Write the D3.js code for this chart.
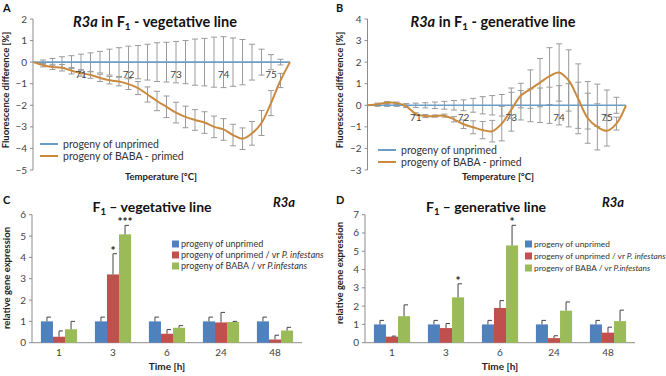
<!DOCTYPE html>
<html>
<head>
<meta charset="utf-8">
<script src="https://cdn.jsdelivr.net/npm/d3@7"></script>
<style>
  html, body { margin: 0; padding: 0; background: #fff; overflow: hidden; }
  svg { display: block; font-family: Lato, "Open Sans", sans-serif; }
</style>
</head>
<body>
<svg id="chart" width="666" height="376"></svg>
<script>
// ---- melt curve data (panels A, B) ----
var temps = [70.0, 70.2, 70.4, 70.6, 70.8, 71.0, 71.2, 71.4, 71.6, 71.8, 72.0, 72.2, 72.4, 72.6,
             72.8, 73.0, 73.2, 73.4, 73.6, 73.8, 74.0, 74.2, 74.4, 74.6, 74.8, 75.0, 75.2, 75.4];
var tempTicks = [71, 72, 73, 74, 75];
var unprimedDiff = [0, 0, 0, 0, 0, 0, 0, 0, 0, 0, 0, 0, 0, 0, 0, 0, 0, 0, 0, 0, 0, 0, 0, 0, 0, 0, 0, 0];

// vegetative line
var vegPrimed = [0, -0.14, -0.22, -0.26, -0.40, -0.50, -0.60, -0.73, -0.84, -0.90, -1.02, -1.20, -1.50, -1.80,
                 -2.07, -2.34, -2.54, -2.68, -2.80, -3.00, -3.12, -3.38, -3.55, -3.30, -2.82, -1.90, -0.85, 0];
var vegUnprimedErr = [0, 0.10, 0.17, 0.25, 0.30, 0.37, 0.43, 0.50, 0.60, 0.67, 0.74, 0.77, 0.83, 0.90,
                      0.92, 0.96, 1.00, 1.07, 1.10, 1.16, 1.18, 1.12, 1.05, 0.83, 0.60, 0.35, 0.13, 0];
var vegPrimedErr = [0, 0.08, 0.12, 0.15, 0.15, 0.15, 0.15, 0.17, 0.17, 0.20, 0.25, 0.30, 0.35, 0.45,
                    0.50, 0.48, 0.50, 0.48, 0.50, 0.50, 0.50, 0.50, 0.50, 0.55, 0.58, 0.58, 0.33, 0];

// generative line
var genPrimed = [0, 0.05, 0.12, 0.10, -0.05, -0.40, -0.50, -0.50, -0.48, -0.65, -0.88, -1.02, -1.15, -1.20,
                 -0.85, -0.20, 0.45, 0.75, 1.05, 1.35, 1.52, 1.15, 0.30, -0.60, -1.00, -1.18, -0.85, 0];
var genUnprimedErr = [0, 0.05, 0.05, 0.05, 0.08, 0.10, 0.12, 0.15, 0.18, 0.22, 0.25, 0.32, 0.40, 0.45,
                      0.50, 0.60, 0.68, 0.76, 0.80, 0.84, 0.91, 1.00, 1.07, 1.10, 0.98, 0.71, 0.37, 0];
var genPrimedErr = [0, 0.05, 0.05, 0.05, 0.05, 0.05, 0.07, 0.05, 0.07, 0.12, 0.20, 0.30, 0.40, 0.50,
                    0.80, 1.00, 0.57, 0.89, 1.12, 1.32, 1.33, 1.42, 1.62, 1.16, 1.07, 0.71, 0.30, 0];

// ---- relative expression data (panels C, D) ----
var times = ["1", "3", "6", "24", "48"];
var seriesKeys = ["unprimed", "unprimedInf", "babaInf"];

var vegUnprimed = [1, 1, 1, 1, 1];
var vegUnprimedE = [0.2, 0.2, 0.2, 0.2, 0.2];
var vegUnprimedInf = [0.28, 3.2, 0.42, 0.95, 0.15];
var vegUnprimedInfE = [0.27, 0.97, 0.2, 0.47, 0.2];
var vegBabaInf = [0.63, 5.08, 0.7, 0.97, 0.57];
var vegBabaInfE = [0.37, 0.42, 0.1, 0.03, 0.15];
var vegStars = [["3", 1, "*"], ["3", 2, "***"]];

var genUnprimed = [1, 1, 1, 1, 1];
var genUnprimedE = [0.22, 0.22, 0.22, 0.22, 0.22];
var genUnprimedInf = [0.33, 0.8, 1.9, 0.25, 0.55];
var genUnprimedInfE = [0.03, 0.25, 0.4, 0.13, 0.3];
var genBabaInf = [1.45, 2.48, 5.32, 1.75, 1.18];
var genBabaInfE = [0.62, 0.74, 1.1, 0.48, 0.6];
var genStars = [["3", 2, "*"], ["6", 2, "*"]];

var barColors = ["#4f81bd", "#c0504d", "#9bbb59"];
var lineBlue = "#6b9cc4", lineOrange = "#c98a3e", errGray = "#9a9a9a";

var svg = d3.select("#chart");

// text with mixed bold / italic / subscript pieces
function richText(g, x, y, parts, size, anchor) {
    var t = g.append("text").attr("x", x).attr("y", y)
        .attr("text-anchor", anchor || "start")
        .attr("font-size", size);
    parts.forEach(function(p) {
        var s = t.append("tspan").text(p.t);
        if (p.i) s.attr("font-style", "italic");
        if (p.b) s.attr("font-weight", "bold");
        if (p.sub) s.attr("font-size", size * 0.68).attr("dy", size * 0.22);
        if (p.up) s.attr("dy", -size * 0.22);
    });
    return t;
}

function panelLabel(x, y, txt) {
    svg.append("text").attr("x", x).attr("y", y).attr("font-size", 11)
        .attr("font-weight", "bold").attr("fill", "#111").text(txt);
}

function drawYAxis(g, y, x0, ticks, fmt) {
    g.append("line").attr("x1", x0).attr("x2", x0)
        .attr("y1", y.range()[0]).attr("y2", y.range()[1])
        .attr("stroke", "#8c8c8c");
    ticks.forEach(function(v) {
        g.append("line").attr("x1", x0 - 3).attr("x2", x0)
            .attr("y1", y(v)).attr("y2", y(v)).attr("stroke", "#8c8c8c");
        g.append("text").attr("x", x0 - 6).attr("y", y(v) + 3.5)
            .attr("text-anchor", "end").attr("font-size", 10).attr("fill", "#444")
            .text(fmt ? fmt(v) : v);
    });
}

// ---- melt curve panel ----
function meltPanel(cfg) {
    var g = svg.append("g");
    var x = d3.scaleLinear().domain([70.0, 75.4]).range(cfg.xr);
    var y = d3.scaleLinear().domain(cfg.yd).range([170, 19]);

    drawYAxis(g, y, cfg.xr[0] - 0.5, d3.range(cfg.yd[0], cfg.yd[1] + 1), d3.format("d"));

    // error bars (inner points only)
    function errBars(vals, errs) {
        for (var i = 1; i < temps.length - 1; i++) {
            var cx = x(temps[i]), lo = y(vals[i] - errs[i]), hi = y(vals[i] + errs[i]);
            g.append("line").attr("x1", cx).attr("x2", cx).attr("y1", lo).attr("y2", hi)
                .attr("stroke", errGray).attr("stroke-width", 1);
            [lo, hi].forEach(function(yy) {
                g.append("line").attr("x1", cx - 3).attr("x2", cx + 3).attr("y1", yy).attr("y2", yy)
                    .attr("stroke", errGray).attr("stroke-width", 1);
            });
        }
    }
    errBars(unprimedDiff, cfg.unErr);
    errBars(cfg.primed, cfg.prErr);

    var line = d3.line().x(function(d, i) { return x(temps[i]); })
        .y(function(d) { return y(d); })
        .curve(d3.curveCatmullRom.alpha(0.5));
    g.append("path").attr("d", line(unprimedDiff)).attr("fill", "none")
        .attr("stroke", lineBlue).attr("stroke-width", 1.6);
    g.append("path").attr("d", line(cfg.primed)).attr("fill", "none")
        .attr("stroke", lineOrange).attr("stroke-width", 2);

    // temperature labels sit just under the zero line
    tempTicks.forEach(function(t) {
        g.append("text").attr("x", x(t)).attr("y", y(0) + 16)
            .attr("text-anchor", "middle").attr("font-size", 10).attr("fill", "#444").text(t);
    });

    richText(g, cfg.titleX, 27, cfg.title, 14.5, "middle").attr("fill", "#111");

    g.append("text").attr("x", cfg.axisX).attr("y", 180).attr("text-anchor", "middle")
        .attr("font-size", 9.5).attr("font-weight", "bold").attr("fill", "#222")
        .text("Temperature [°C]");
    g.append("text").attr("transform", "translate(" + (cfg.xr[0] - 25) + ",90) rotate(-90)")
        .attr("text-anchor", "middle").attr("font-size", 9.5).attr("font-weight", "bold")
        .attr("fill", "#222").text("Fluorescence difference [%]");

    // legend
    var names = ["progeny of unprimed", "progeny of BABA - primed"];
    [lineBlue, lineOrange].forEach(function(c, i) {
        var ly = cfg.legY + i * 12;
        g.append("line").attr("x1", cfg.legX).attr("x2", cfg.legX + 18)
            .attr("y1", ly).attr("y2", ly).attr("stroke", c).attr("stroke-width", 2);
        g.append("text").attr("x", cfg.legX + 23).attr("y", ly + 3.5)
            .attr("font-size", 10.5).attr("fill", "#333").text(names[i]);
    });
}

meltPanel({
    xr: [33.5, 290], yd: [-5, 2], primed: vegPrimed, unErr: vegUnprimedErr, prErr: vegPrimedErr,
    titleX: 155, axisX: 161, legX: 40, legY: 144,
    title: [{t: "R3a", i: 1, b: 1}, {t: " in F", b: 1}, {t: "1", b: 1, sub: 1}, {t: "  - vegetative line", b: 1, up: 1}]
});
meltPanel({
    xr: [368, 626], yd: [-3, 4], primed: genPrimed, unErr: genUnprimedErr, prErr: genPrimedErr,
    titleX: 493, axisX: 498, legX: 378, legY: 150,
    title: [{t: "R3a", i: 1, b: 1}, {t: " in  F", b: 1}, {t: "1", b: 1, sub: 1}, {t: " - generative line", b: 1, up: 1}]
});

// ---- bar panel ----
function barPanel(cfg) {
    var g = svg.append("g");
    var x = d3.scaleBand().domain(times).range(cfg.xr).paddingInner(0.33).paddingOuter(0.165);
    var xs = d3.scaleBand().domain(seriesKeys).range([0, x.bandwidth()]);
    var y = d3.scaleLinear().domain([0, cfg.ymax]).range([342.7, 214.7]);

    drawYAxis(g, y, cfg.xr[0], d3.range(0, cfg.ymax + 1));
    g.append("line").attr("x1", cfg.xr[0]).attr("x2", cfg.xr[1])
        .attr("y1", y(0)).attr("y2", y(0)).attr("stroke", "#8c8c8c");

    seriesKeys.forEach(function(k, s) {
        var vals = cfg.vals[s], errs = cfg.errs[s];
        times.forEach(function(t, i) {
            var bx = x(t) + xs(k), bw = xs.bandwidth();
            g.append("rect").attr("x", bx).attr("y", y(vals[i]))
                .attr("width", bw).attr("height", y(0) - y(vals[i])).attr("fill", barColors[s]);
            var cx = bx + bw / 2, top = y(vals[i] + errs[i]);
            g.append("line").attr("x1", cx).attr("x2", cx).attr("y1", y(vals[i])).attr("y2", top)
                .attr("stroke", "#444").attr("stroke-width", 1);
            g.append("line").attr("x1", cx).attr("x2", cx + 4).attr("y1", top).attr("y2", top)
                .attr("stroke", "#444").attr("stroke-width", 1);
        });
    });

    cfg.stars.forEach(function(st) {
        var i = times.indexOf(st[0]), s = st[1];
        var cx = x(st[0]) + xs(seriesKeys[s]) + xs.bandwidth() / 2;
        var top = y(cfg.vals[s][i] + cfg.errs[s][i]);
        g.append("text").attr("x", cx).attr("y", top + 1).attr("text-anchor", "middle")
            .attr("font-size", 12).attr("font-weight", "bold").attr("fill", "#222").text(st[2]);
    });

    times.forEach(function(t) {
        g.append("text").attr("x", x(t) + x.bandwidth() / 2).attr("y", 356)
            .attr("text-anchor", "middle").attr("font-size", 10).attr("fill", "#444").text(t);
    });
    g.append("text").attr("x", cfg.axisX).attr("y", 370).attr("text-anchor", "middle")
        .attr("font-size", 10).attr("font-weight", "bold").attr("fill", "#222").text("Time [h]");
    g.append("text").attr("transform", "translate(" + (cfg.xr[0] - 22) + "," + cfg.ylabY + ") rotate(-90)")
        .attr("text-anchor", "middle").attr("font-size", 9.5).attr("font-weight", "bold")
        .attr("fill", "#222").text("relative gene expression");

    richText(g, cfg.titleX, 212, [{t: "F", b: 1}, {t: "1", b: 1, sub: 1}, {t: " – " + cfg.titleText, b: 1, up: 1}], 14, "middle")
        .attr("fill", "#111");
    richText(g, cfg.geneX, 207, [{t: "R3a", i: 1, b: 1}], 13, "start").attr("fill", "#111");

    var legend = [
        [{t: "progeny of unprimed"}],
        [{t: "progeny of unprimed / vr "}, {t: "P. infestans", i: 1}],
        [{t: "progeny of BABA / vr "}, {t: "P.infestans", i: 1}]
    ];
    legend.forEach(function(parts, i) {
        var ly = cfg.legY[i];
        g.append("rect").attr("x", cfg.legX).attr("y", ly - 3.5).attr("width", 7).attr("height", 7)
            .attr("fill", barColors[i]);
        richText(g, cfg.legX + 9, ly + 3, parts, cfg.legSize, "start").attr("fill", "#333");
    });
}

barPanel({
    xr: [32, 302], ymax: 6,
    vals: [vegUnprimed, vegUnprimedInf, vegBabaInf], errs: [vegUnprimedE, vegUnprimedInfE, vegBabaInfE],
    stars: vegStars, axisX: 167, ylabY: 278, titleX: 152, titleText: "vegetative line", geneX: 273,
    legX: 172, legY: [244, 255, 266], legSize: 9
});
barPanel({
    xr: [365, 635], ymax: 7,
    vals: [genUnprimed, genUnprimedInf, genBabaInf], errs: [genUnprimedE, genUnprimedInfE, genBabaInfE],
    stars: genStars, axisX: 500, ylabY: 273, titleX: 486, titleText: "generative line", geneX: 602,
    legX: 525, legY: [244, 256, 268], legSize: 8.3
});

panelLabel(3, 12, "A");
panelLabel(336, 12, "B");
panelLabel(3, 204, "C");
panelLabel(336, 204, "D");
</script>
</body>
</html>
